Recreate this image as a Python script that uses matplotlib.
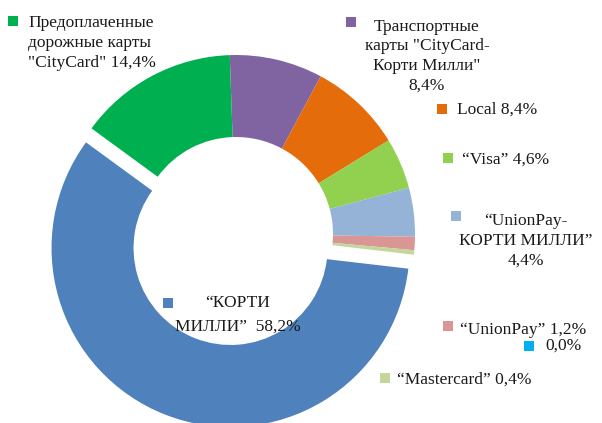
import matplotlib.pyplot as plt

# Доли платёжных карт (по часовой стрелке от верха)
names = ['Транспортные\nкарты "CityCard-\nКорти Милли"\n',
         'Local ',
         '“Visa” ',
         '“UnionPay-\nКОРТИ МИЛЛИ”\n',
         '“UnionPay” ',
         '“Mastercard” ',
         '',
         '“КОРТИ\nМИЛЛИ”  ',
         'Предоплаченные\nдорожные карты\n"CityCard" ']
values = [8.4, 8.4, 4.6, 4.4, 1.2, 0.4, 0.0, 58.2, 14.4]
colors = ['#8064A2', '#E46C0A', '#92D050', '#95B3D7', '#D99694',
          '#C3D69B', '#00B0F0', '#4F81BD', '#00B050']
explode = [0, 0, 0, 0, 0, 0, 0, 15, 0]

W, H = 602, 423

# позиции подписей в пикселях (x маркера, y маркера, x текста, y текста, выравнивание, межстрочный)
label_pos = [
    (351, 22, 427, 56, 'center', 1.3),
    (442, 109, 457, 110, 'left', 1.3),
    (448, 158, 462, 160, 'left', 1.3),
    (456, 216, 526, 241, 'center', 1.3),
    (448, 326, 460, 330, 'left', 1.3),
    (385, 378, 397, 380, 'left', 1.3),
    (529, 346, 545, 346, 'left', 1.3),
    (168, 303, 238, 315, 'center', 1.6),
    (13, 21, 28, 43, 'left', 1.3),
]


def fmt(v):
    return f"{v:.1f}%".replace('.', ',')


fig = plt.figure(figsize=(W / 100, H / 100), dpi=100)
ax = fig.add_axes([0, 0, 1, 1])

ax.pie(values, colors=colors, startangle=92, counterclock=False,
       center=(236, H - 234), radius=179, explode=explode,
       wedgeprops=dict(width=82, edgecolor='none'))
ax.set_xlim(0, W)
ax.set_ylim(0, H)
ax.set_aspect('equal')
ax.axis('off')

for name, v, c, (mx, my, tx, ty, ha, ls) in zip(names, values, colors, label_pos):
    ax.scatter([mx], [H - my], marker='s', s=45, color=c, linewidths=0)
    ax.text(tx, H - ty, name + fmt(v), ha=ha, va='center', multialignment=ha,
            fontsize=12.5, family='Liberation Serif', color='#1a1a1a',
            linespacing=ls)

fig.savefig('out.png', dpi=100)
